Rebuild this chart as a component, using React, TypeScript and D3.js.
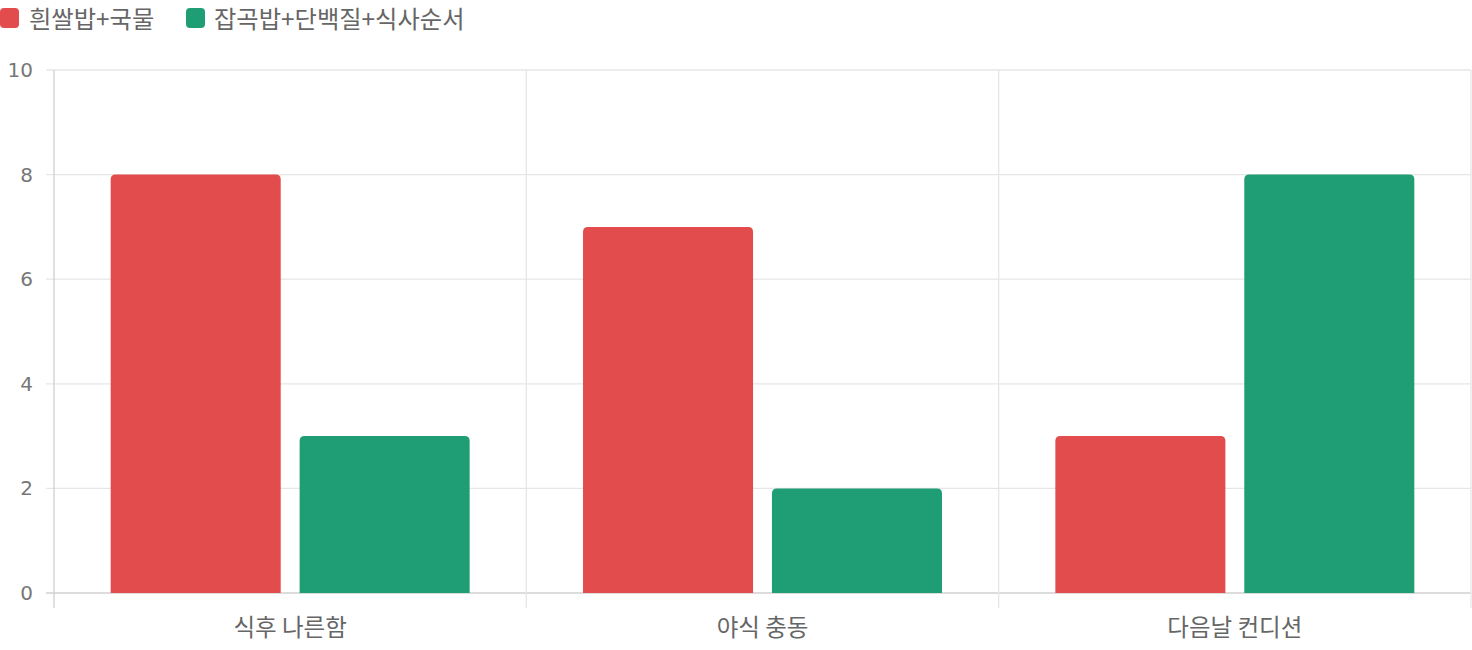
import React from "react";
import * as d3 from "d3";

const categories = ["식후 나른함", "야식 충동", "다음날 컨디션"];
const seriesNames = ["흰쌀밥+국물", "잡곡밥+단백질+식사순서"];
const whiteRice = [8, 7, 3];
const grainProtein = [3, 2, 8];
const yTicks = [0, 2, 4, 6, 8, 10];
const colors = ["#e34c4c", "#1f9e75"];

const W = 1472;
const H = 650;
const left = 54;
const right = 1471;
const top = 70;
const bottom = 593;
const FONT = "'Noto Sans CJK KR', 'Liberation Sans', sans-serif";
const TICK_FONT = "'DejaVu Sans', sans-serif";

function topRoundedRect(x: number, y: number, w: number, h: number, r: number) {
  const rr = Math.min(r, w / 2, h);
  return `M${x},${y + h}V${y + rr}Q${x},${y} ${x + rr},${y}H${x + w - rr}Q${x + w},${y} ${x + w},${y + rr}V${y + h}Z`;
}

export default function App() {
  const x0 = d3.scaleBand<string>().domain(categories).range([left, right]).paddingInner(0).paddingOuter(0);
  const inner = 0.8;
  const barPct = 0.9;
  const y = d3.scaleLinear().domain([0, 10]).range([bottom, top]);
  const series = [whiteRice, grainProtein];
  const bw = x0.bandwidth();
  const groupW = bw * inner;
  const slotW = groupW / series.length;
  const barW = slotW * barPct;

  const gridX = categories.map((c) => x0(c)!).concat([right]);

  return (
    <svg
      width={W}
      height={H}
      style={{ position: "fixed", left: 0, top: 0, display: "block", background: "#fff" }}
      fontFamily={FONT}
    >
      {/* legend */}
      <g>
        <rect x={0} y={8} width={19} height={20} rx={4} fill={colors[0]} />
        <text x={29} y={19} dy="0.35em" fontSize={24.3} fill="#666">{seriesNames[0]}</text>
        <rect x={186} y={8} width={19} height={20} rx={4} fill={colors[1]} />
        <text x={214} y={19} dy="0.35em" fontSize={24.3} fill="#666">{seriesNames[1]}</text>
      </g>
      {/* horizontal grid */}
      {yTicks.map((t) => (
        <g key={t}>
          <line x1={46} x2={right} y1={y(t)} y2={y(t)} stroke={t === 0 ? "#d0d0d0" : "#e6e6e6"} strokeWidth={1.3} />
          <text x={33} y={y(t)} dy="0.35em" textAnchor="end" fontSize={20} fontFamily={TICK_FONT} fill="#777">{t}</text>
        </g>
      ))}
      {/* vertical grid */}
      {gridX.map((gx, i) => (
        <line key={i} x1={gx} x2={gx} y1={top} y2={608} stroke={i === 0 ? "#d0d0d0" : "#e6e6e6"} strokeWidth={1.3} />
      ))}
      {/* bars */}
      {categories.map((c, ci) => {
        const gx = x0(c)! + (bw - groupW) / 2;
        return series.map((s, si) => {
          const bx = gx + si * slotW + (slotW - barW) / 2;
          const by = y(s[ci]);
          return (
            <path key={`${ci}-${si}`} d={topRoundedRect(bx, by, barW, bottom - by, 5)} fill={colors[si]} />
          );
        });
      })}
      {/* x labels */}
      {categories.map((c) => (
        <text key={c} x={x0(c)! + bw / 2} y={628} dy="0.35em" textAnchor="middle" fontSize={23.5} fill="#666">
          {c}
        </text>
      ))}
    </svg>
  );
}
